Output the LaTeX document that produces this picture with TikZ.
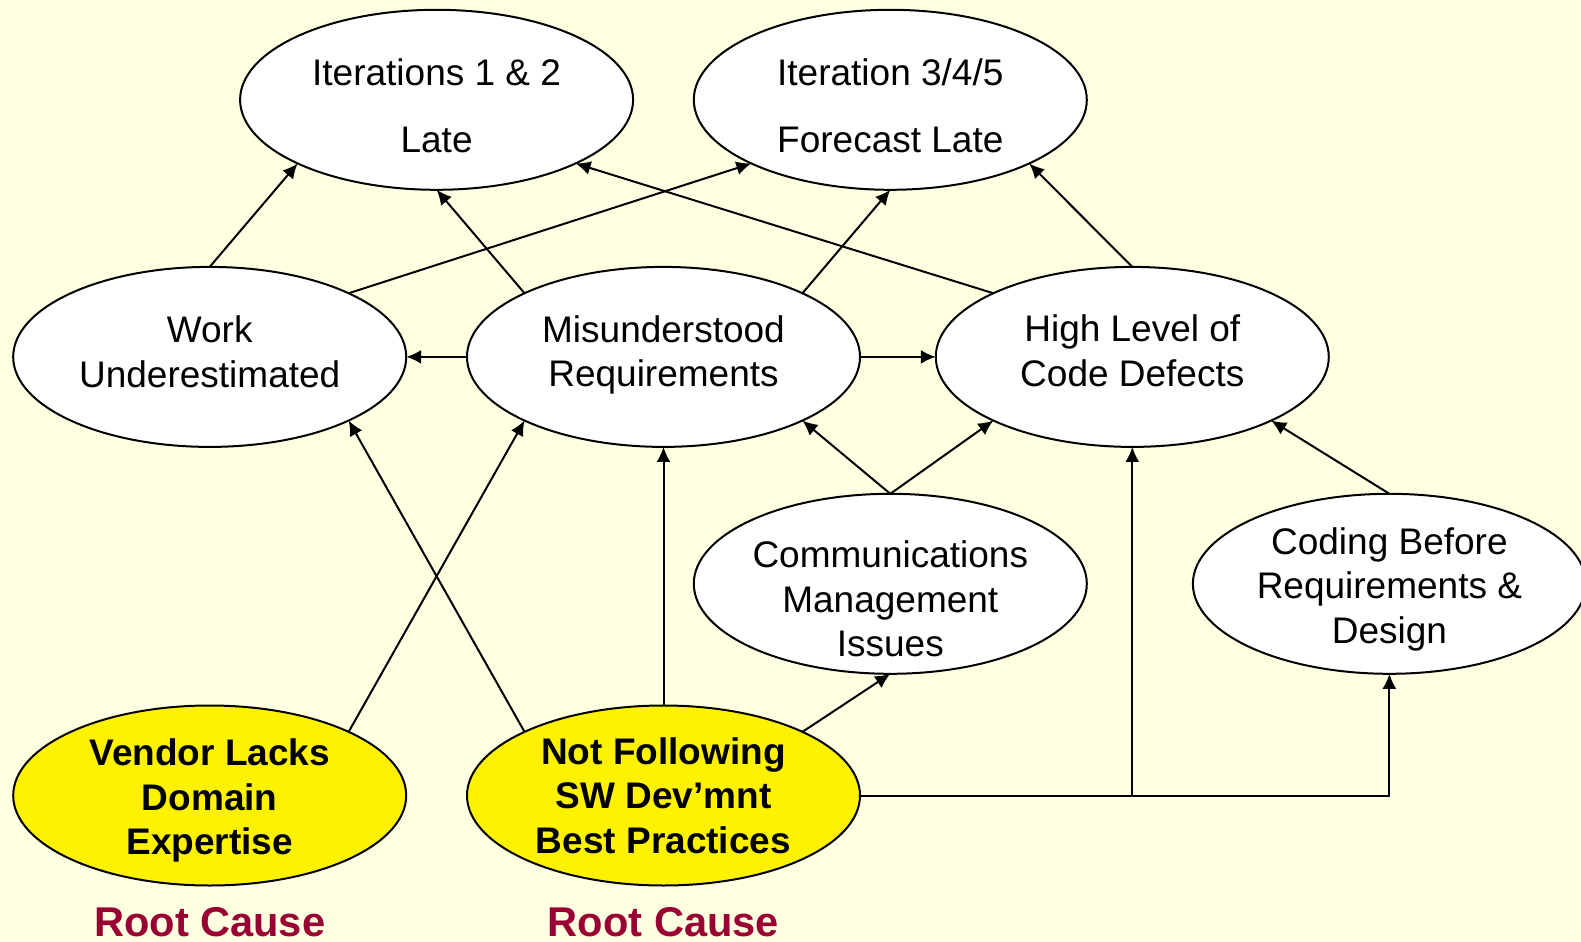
\documentclass[tikz,border=0pt]{standalone}
\usepackage{fontspec}
\setmainfont{Liberation Sans}
\usetikzlibrary{shapes.geometric,arrows.meta}
\definecolor{bg}{RGB}{255,255,225}
\definecolor{rootred}{RGB}{153,0,51}
\tikzset{
  oval/.style={ellipse, draw=black, line width=1pt, fill=white, inner sep=0pt, outer sep=0pt,
    minimum width=196.5pt, minimum height=90pt},
  rootoval/.style={oval, fill=yellow},
  txt/.style={align=center, inner sep=0pt, font=\fontsize{18.5}{22.2}\selectfont},
  roottxt/.style={txt, font=\fontsize{18.5}{22.2}\selectfont\bfseries},
  rootlabel/.style={text=rootred, font=\fontsize{20.8}{24}\selectfont\bfseries, inner sep=0pt},
  arr/.style={line width=1pt, -{Latex[length=7.5pt,width=7pt]}}
}
\begin{document}
\begin{tikzpicture}[x=0.5pt,y=-0.5pt]
\useasboundingbox (0,0) rectangle (1581,942);
\clip (0,0) rectangle (1581,942);
\fill[bg] (0,0) rectangle (1581,942);
\node[oval] (it12) at (436.6,99.8) {};
\node[oval] (it345) at (890.3,99.8) {};
\node[oval] (work) at (209.7,356.9) {};
\node[oval] (mis) at (663.5,356.9) {};
\node[oval] (high) at (1132.3,356.9) {};
\node[oval] (comm) at (890.3,583.8) {};
\node[oval] (code) at (1389.4,583.8) {};
\node[rootoval] (vend) at (209.7,795.5) {};
\node[rootoval] (notf) at (663.5,795.5) {};

\node[txt] (it12t) at (436.6,105.8) {Iterations 1 \& 2\\[11pt]Late};
\node[txt] (it345t) at (890.3,105.8) {Iteration 3/4/5\\[11pt]Forecast Late};
\node[txt] (workt) at (209.7,351.9) {Work\\Underestimated};
\node[txt] (mist) at (663.5,354.9) {Misunderstood\\Requirements};
\node[txt] (hight) at (1132.3,350.9) {High Level of\\Code Defects};
\node[txt] (commt) at (890.3,598.8) {Communications\\Management\\Issues};
\node[txt] (codet) at (1389.4,589.3) {Coding Before\\Requirements \&\\Design};
\node[roottxt] (vendt) at (209.7,800.5) {Vendor Lacks\\Domain\\Expertise};
\node[roottxt] (notft) at (663.5,795.5) {Not Following\\SW Dev'mnt\\Best Practices};
\node[rootlabel] (rc1) at (209.7,922.6) {Root Cause};
\node[rootlabel] (rc2) at (663.5,922.6) {Root Cause};

\draw[arr] (work.north) -- (it12.south west);
\draw[arr] (mis.north west) -- (it12.south);
\draw[arr] (work.north east) -- (it345.south west);
\draw[arr] (high.north west) -- (it12.south east);
\draw[arr] (mis.north east) -- (it345.south);
\draw[arr] (high.north) -- (it345.south east);
\draw[arr] (mis.west) -- (work.east);
\draw[arr] (mis.east) -- (high.west);
\draw[arr] (comm.north) -- (mis.south east);
\draw[arr] (comm.north) -- (high.south west);
\draw[arr] (code.north) -- (high.south east);
\draw[arr] (vend.north east) -- (mis.south west);
\draw[arr] (notf.north west) -- (work.south east);
\draw[arr] (notf.north) -- (mis.south);
\draw[arr] (notf.north east) -- (comm.south);
\draw[arr] (notf.east) -| (high.south);
\draw[arr] (notf.east) -| (code.south);
\end{tikzpicture}
\end{document}
